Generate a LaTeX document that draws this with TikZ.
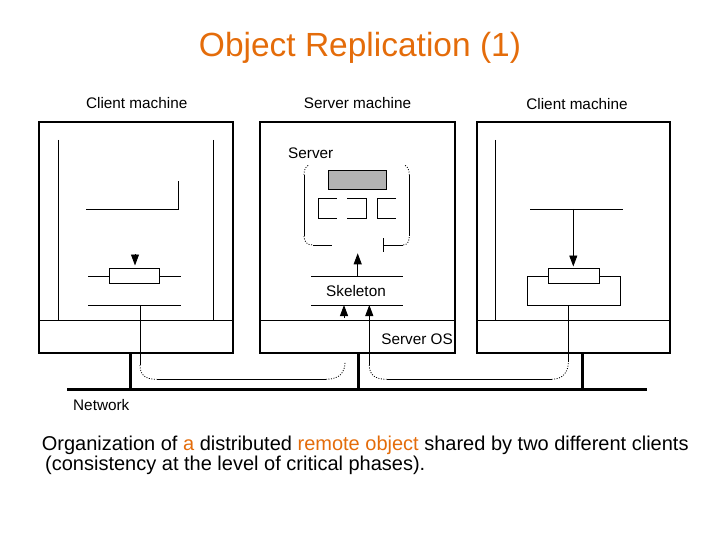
\documentclass[tikz,border=0pt]{standalone}
\usepackage{fontspec}
\setmainfont{Liberation Sans}
\usetikzlibrary{arrows.meta}
\definecolor{ttl}{RGB}{228,108,10}
\definecolor{boxgray}{RGB}{178,178,178}
\begin{document}
\begin{tikzpicture}[x=1pt,y=-1pt,
  machine/.style={line width=2pt},
  thinln/.style={line width=0.9pt},
  net/.style={line width=3pt},
  dotc/.style={line width=0.8pt, dash pattern=on 1pt off 1.5pt},
  tip/.style={-{Triangle[width=8pt,length=11pt]}, line width=0.9pt},
  lbl/.style={font=\fontsize{15.3}{18}\selectfont, inner sep=0pt},
]
\useasboundingbox (0,0) rectangle (720,540);

% title
\node[anchor=base, text=ttl, font=\fontsize{33.5}{40}\selectfont, inner sep=0pt] (title) at (360,56.5) {Object Replication (1)};

% machine labels
\node[lbl, anchor=base] (lclient) at (136.7,108.5) {Client machine};
\node[lbl, anchor=base] (smach) at (357.5,109) {Server machine};
\node[lbl, anchor=base] (rclient) at (577,110) {Client machine};

% machine boxes
\draw[machine] (39.3,121.7) rectangle (232.7,353.3);
\draw[machine] (260,121.7) rectangle (455,353.3);
\draw[machine] (476.5,121.7) rectangle (670,353.3);
\draw[thinln] (39.3,320) -- (232.7,320);
\draw[thinln] (260,320) -- (455,320);
\draw[thinln] (476.5,320) -- (670,320);

% ---- left client
\draw[thinln] (58.7,140) -- (58.7,320);
\draw[thinln] (213.3,140) -- (213.3,320);
\draw[thinln] (86,209) -- (178.3,209) -- (178.3,180.7);
\draw[tip] (135,254) -- (135,265.5);
\draw[thinln] (109.3,268.3) rectangle (159.3,283.3);
\draw[thinln] (88.3,276) -- (109.3,276);
\draw[thinln] (159.3,276) -- (180.7,276);
\draw[thinln] (88.3,305) -- (180.7,305);
\draw[thinln] (140,305) -- (140,365);
\draw[dotc] (140,365) .. controls (140,375) and (145,379.3) .. (156.7,379.3);
\draw[thinln] (156.7,379.3) -- (326,379.3);
\draw[dotc] (326,379.3) .. controls (340,379.3) and (345,372) .. (345,362);

% ---- server
\node[lbl, anchor=base west] (srv) at (288,158.3) {Server};
\draw[thinln] (304,175) -- (304,236);
\draw[thinln] (409.3,175) -- (409.3,236);
\draw[dotc] (304,175) .. controls (304,169) and (306,166) .. (309,165);
\draw[dotc] (409.3,175) .. controls (409.3,169) and (407.3,166) .. (404.3,165);
\draw[dotc] (304,236) .. controls (304,242) and (307,245) .. (313,245);
\draw[thinln] (313,245) -- (331.7,245);
\draw[thinln] (383.3,245) -- (403.3,245);
\draw[dotc] (403.3,245) .. controls (407.5,245) and (409.3,241) .. (409.3,236);
\draw[thinln] (383.3,238) -- (383.3,251.7);
\draw[thinln, fill=boxgray] (328.3,170) rectangle (386.7,189);
\draw[thinln] (336.7,198.3) -- (318.3,198.3) -- (318.3,218.3) -- (336.7,218.3);
\draw[thinln] (347.3,198.3) -- (366.5,198.3) -- (366.5,218.3) -- (347.3,218.3);
\draw[thinln] (396,198.3) -- (377.3,198.3) -- (377.3,218.3) -- (396,218.3);
\draw[tip] (357.7,276) -- (357.7,253.3);
\draw[thinln] (311,276) -- (403.3,276);
\draw[thinln] (311,305) -- (403.3,305);
\node[lbl, anchor=base] (skel) at (356,296.7) {Skeleton};
\draw[tip] (344,318) -- (344,305);
\draw[tip] (369.3,365) -- (369.3,305);
\node[lbl, anchor=base east] (sos) at (453,344) {Server OS};
\draw[dotc] (369.3,365) .. controls (369.3,375) and (375,379.3) .. (386.7,379.3);
\draw[thinln] (386.7,379.3) -- (551.7,379.3);
\draw[dotc] (551.7,379.3) .. controls (563,379.3) and (568.3,372) .. (568.3,362);
\draw[thinln] (568.3,362) -- (568.3,305);

% ---- right client
\draw[thinln] (495.7,140) -- (495.7,320);
\draw[thinln] (530,209) -- (622.7,209);
\draw[tip] (573.3,209) -- (573.3,266.5);
\draw[thinln] (527.7,276) rectangle (620.7,305);
\draw[thinln, fill=white] (548.3,268.3) rectangle (599.3,283.3);

% ---- network
\draw[net] (67.3,389.3) -- (647.3,389.3);
\draw[net] (130,353.3) -- (130,389.3);
\draw[net] (358.3,353.3) -- (358.3,389.3);
\draw[net] (582.7,353.3) -- (582.7,389.3);
\node[lbl, anchor=base west] (netl) at (73,410) {Network};

% ---- caption
\node[anchor=base west, font=\fontsize{20}{24}\selectfont, inner sep=0pt] (cap1) at (41.7,450)
  {Organization of \textcolor{ttl}{a} distributed \textcolor{ttl}{remote object} shared by two different clients};
\node[anchor=base west, font=\fontsize{20}{24}\selectfont, inner sep=0pt] (cap2) at (45,470)
  {(consistency at the level of critical phases).};
\end{tikzpicture}
\end{document}
